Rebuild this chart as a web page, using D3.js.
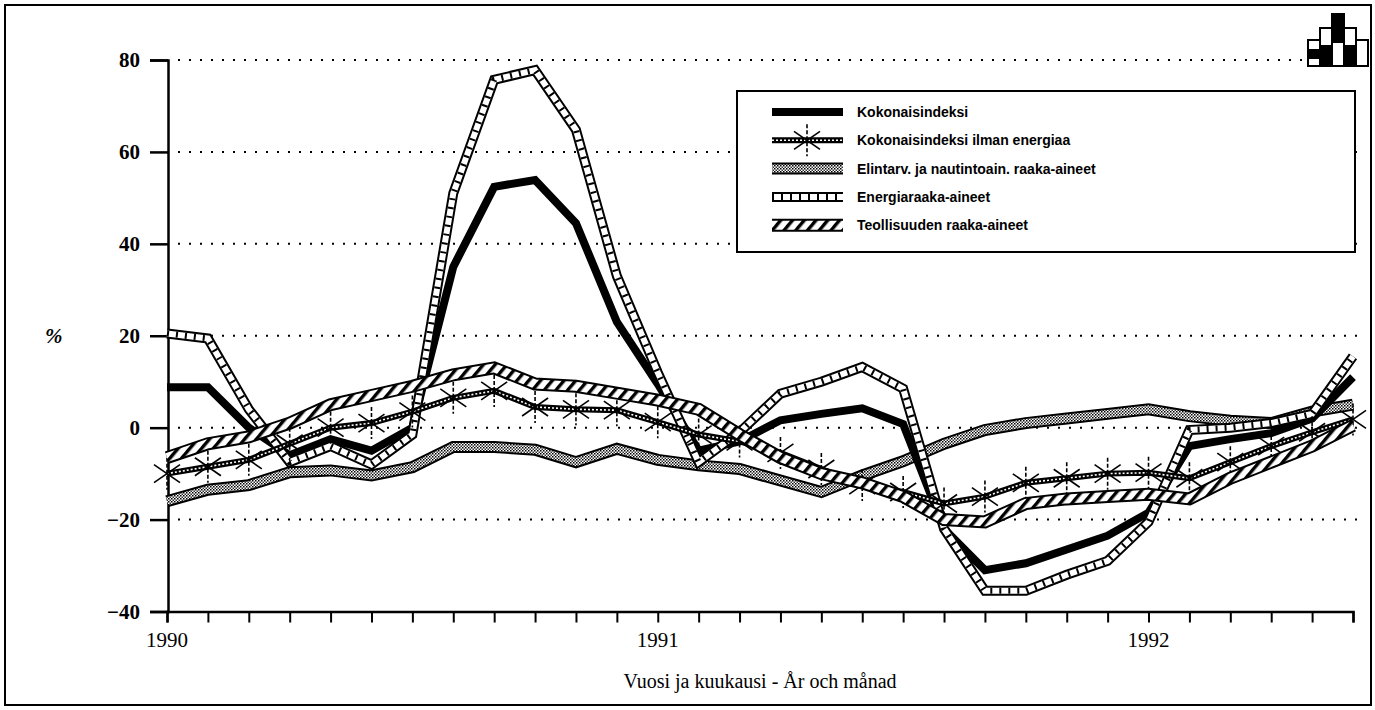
<!DOCTYPE html>
<meta charset="utf-8">
<title>Raaka-aineiden hintaindeksi</title>
<style>
  body { margin: 0; background: #fff; }
  svg { display: block; }
</style>
<body>
<script src="https://d3js.org/d3.v7.min.js"></script>
<script>

// kuukausittaiset arvot 1990/1 - 1992/6 (%)
var kokonais  = [8.8, 8.8, 0, -6, -2.5, -5, 0, 35, 52.4, 53.9, 44.5, 23, 9.5, -5, -3, 1.6, 3, 4.2, 0.8, -22, -31, -29.5, -26.5, -23.5, -18.5, -4, -2.5, -1.2, 2, 11];
var ilmanEn   = [-10, -8.5, -7, -3.5, 0, 1, 3.5, 6.5, 8, 4.5, 4, 3.8, 1.2, -1.5, -3, -5.5, -9, -12.5, -14, -16.5, -15, -12, -11, -10, -9.8, -11, -7.5, -4, -1, 1.8];
var elintarv  = [-16, -13.5, -12.5, -9.7, -9.3, -10.4, -8.6, -4.2, -4.2, -4.8, -7.5, -4.6, -7, -8.2, -9, -11.5, -14, -10.4, -7.3, -3.5, -0.5, 1, 2, 3, 4, 2.5, 1.5, 1, 3.5, 5];
var energia   = [20.5, 19.4, 4, -7.5, -4, -8, -1.5, 51, 75.7, 77.8, 64.8, 33, 12, -7.5, -1, 7.4, 10, 13.2, 8.5, -22, -35.5, -35.5, -32, -29, -20.5, -0.5, 0, 1, 3, 15.5];
var teollis   = [-6.5, -3.5, -2, 1, 5, 7, 9, 11.5, 13, 9.5, 9, 7.5, 6, 4, -1.5, -6.5, -10, -12, -15, -20, -20.5, -16.5, -15.5, -15, -14.5, -15.5, -11, -7.5, -4, 0.5];

var yearLabels = ["1990", "1991", "1992"];
var yearIndex  = [0, 12, 24];
var yTicks     = [80, 60, 40, 20, 0, -20, -40];
var names = ["Kokonaisindeksi", "Kokonaisindeksi ilman energiaa",
             "Elintarv. ja nautintoain. raaka-aineet", "Energiaraaka-aineet",
             "Teollisuuden raaka-aineet"];

var width = 1375, height = 710;

var x = d3.scaleLinear().domain([0, 29]).range([167, 1353]);
var y = d3.scaleLinear().domain([-40, 80]).range([611.5, 60]);

var svg = d3.select("body").append("svg")
    .attr("width", width)
    .attr("height", height);

// kuviot
var defs = svg.append("defs");
var hatch = defs.append("pattern")
    .attr("id", "hatch").attr("patternUnits", "userSpaceOnUse")
    .attr("width", 9).attr("height", 9)
    .attr("patternTransform", "rotate(40)");
hatch.append("rect").attr("width", 9).attr("height", 9).attr("fill", "#fff");
hatch.append("rect").attr("width", 3.4).attr("height", 9).attr("fill", "#000");

var dots = defs.append("pattern")
    .attr("id", "dots").attr("patternUnits", "userSpaceOnUse")
    .attr("width", 3).attr("height", 3);
dots.append("rect").attr("width", 3).attr("height", 3).attr("fill", "#fff");
dots.append("rect").attr("width", 1.5).attr("height", 1.5).attr("fill", "#000");
dots.append("rect").attr("x", 1.5).attr("y", 1.5).attr("width", 1.5).attr("height", 1.5).attr("fill", "#333");

// kehys
svg.append("rect")
    .attr("x", 5).attr("y", 5).attr("width", 1366).attr("height", 700)
    .attr("fill", "none").attr("stroke", "#000").attr("stroke-width", 2);

// vaakaviivat
svg.append("g").selectAll("line")
    .data(yTicks.filter(function(d) { return d > -40; }))
    .enter().append("line")
    .attr("x1", 178).attr("x2", 1362)
    .attr("y1", function(d) { return y(d); })
    .attr("y2", function(d) { return y(d); })
    .attr("stroke", "#000").attr("stroke-width", 2)
    .attr("stroke-dasharray", "2,9");

// y-akseli
var yAxis = svg.append("g")
    .attr("transform", "translate(168,0)")
    .call(d3.axisLeft(y).tickValues(yTicks).tickSize(18).tickPadding(10));
yAxis.select(".domain").attr("stroke-width", 2.5);
yAxis.selectAll(".tick line").attr("stroke-width", 2.5);
yAxis.selectAll("text")
    .attr("font-family", "'Liberation Serif', serif")
    .attr("font-size", 21).attr("font-weight", "bold").attr("fill", "#000");

svg.append("text")
    .attr("x", 45).attr("y", y(20) + 7)
    .attr("font-family", "'Liberation Serif', serif")
    .attr("font-size", 21).attr("font-style", "italic").attr("font-weight", "bold")
    .text("%");

// x-akseli
var xAxis = svg.append("g")
    .attr("transform", "translate(0," + y(-40) + ")")
    .call(d3.axisBottom(x).tickValues(d3.range(30)).tickSize(11).tickFormat(""));
xAxis.select(".domain").attr("stroke-width", 2.5);
xAxis.selectAll(".tick line").attr("stroke-width", 2);

svg.append("g").selectAll("text")
    .data(yearLabels)
    .enter().append("text")
    .attr("x", function(d, i) { return x(yearIndex[i]); })
    .attr("y", 647)
    .attr("text-anchor", "middle")
    .attr("font-family", "'Liberation Serif', serif")
    .attr("font-size", 21)
    .text(function(d) { return d; });

svg.append("text")
    .attr("x", 760).attr("y", 688)
    .attr("text-anchor", "middle")
    .attr("font-family", "'Liberation Serif', serif")
    .attr("font-size", 20)
    .text("Vuosi ja kuukausi - År och månad");

var line = d3.line()
    .x(function(d, i) { return x(i); })
    .y(function(d) { return y(d); });

var plot = svg.append("g");

// tyylit sarjoittain: piirtää yhden sarjan annettuun ryhmään
function drawSeries(g, k, pathD) {
  function p() { return g.append("path").attr("d", pathD).attr("fill", "none"); }
  if (k === 0) {
    p().attr("stroke", "#000").attr("stroke-width", 8);
  } else if (k === 1) {
    p().attr("stroke", "#000").attr("stroke-width", 6);
    p().attr("stroke", "#fff").attr("stroke-width", 1.6).attr("stroke-dasharray", "2,2");
  } else if (k === 2) {
    p().attr("stroke", "#000").attr("stroke-width", 12);
    p().attr("stroke", "url(#dots)").attr("stroke-width", 8);
  } else if (k === 3) {
    p().attr("stroke", "#000").attr("stroke-width", 10);
    p().attr("stroke", "#fff").attr("stroke-width", 6);
    p().attr("stroke", "#000").attr("stroke-width", 6).attr("stroke-dasharray", "2,7");
  } else {
    p().attr("stroke", "#000").attr("stroke-width", 13);
    p().attr("stroke", "url(#hatch)").attr("stroke-width", 9);
  }
}

function drawStar(g, cx, cy) {
  g.append("line").attr("x1", cx).attr("x2", cx).attr("y1", cy - 16).attr("y2", cy + 16)
    .attr("stroke", "#000").attr("stroke-width", 1.6).attr("stroke-dasharray", "4,2");
  g.append("line").attr("x1", cx - 13).attr("x2", cx + 13).attr("y1", cy - 9).attr("y2", cy + 9)
    .attr("stroke", "#000").attr("stroke-width", 1.6);
  g.append("line").attr("x1", cx - 13).attr("x2", cx + 13).attr("y1", cy + 9).attr("y2", cy - 9)
    .attr("stroke", "#000").attr("stroke-width", 1.6);
}

var seriesData = [kokonais, ilmanEn, elintarv, energia, teollis];
var order = [2, 0, 3, 1, 4];
order.forEach(function(k) {
  var g = plot.append("g");
  drawSeries(g, k, line(seriesData[k]));
  if (k === 1) {
    seriesData[1].forEach(function(v, i) { drawStar(g, x(i), y(v)); });
  }
});

// selite
var legend = svg.append("g");
legend.append("rect")
    .attr("x", 737).attr("y", 91).attr("width", 618).attr("height", 161)
    .attr("fill", "#fff").attr("stroke", "#000").attr("stroke-width", 2);

names.forEach(function(name, k) {
  var ly = 112 + k * 28.3;
  var g = legend.append("g");
  drawSeries(g, k, "M772," + ly + "L843," + ly);
  if (k === 1) drawStar(g, 807, ly);
  g.append("text")
    .attr("x", 857).attr("y", ly + 5)
    .attr("font-family", "'Liberation Sans', Arial, sans-serif")
    .attr("font-size", 14).attr("font-weight", "bold")
    .text(name);
});

// logo oikeassa yläkulmassa
var logo = svg.append("g").attr("stroke", "#000").attr("stroke-width", 2);
var cols = [
  {x: 1308, y: 40, h: 26},
  {x: 1320, y: 28, h: 38},
  {x: 1332, y: 14, h: 52},
  {x: 1344, y: 28, h: 38},
  {x: 1356, y: 40, h: 26}
];
cols.forEach(function(c) {
  logo.append("rect").attr("x", c.x).attr("y", c.y).attr("width", 12).attr("height", c.h).attr("fill", "#fff");
});
logo.append("rect").attr("x", 1308).attr("y", 50).attr("width", 12).attr("height", 8).attr("fill", "#000");
logo.append("rect").attr("x", 1320).attr("y", 46).attr("width", 12).attr("height", 20).attr("fill", "#000");
logo.append("rect").attr("x", 1332).attr("y", 14).attr("width", 12).attr("height", 28).attr("fill", "#000");
logo.append("rect").attr("x", 1344).attr("y", 46).attr("width", 12).attr("height", 20).attr("fill", "#000");

</script>
</body>
